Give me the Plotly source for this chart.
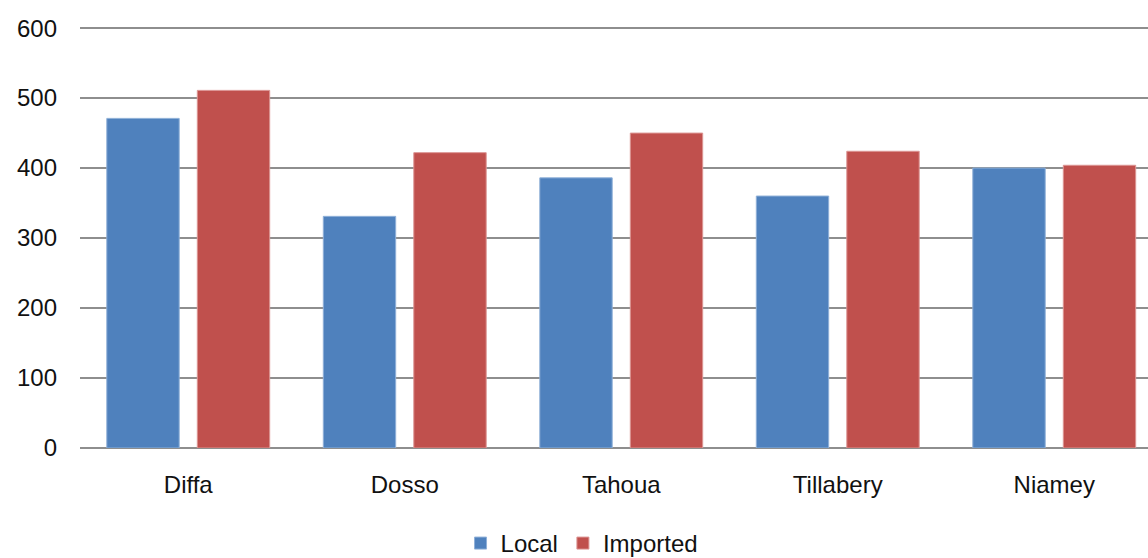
import plotly.graph_objects as go

regions = ["Diffa", "Dosso", "Tahoua", "Tillabery", "Niamey"]
local_vals = [471, 331, 386, 360, 400]
imported_vals = [511, 422, 450, 424, 404]
y_ticks = [0, 100, 200, 300, 400, 500, 600]

fig = go.Figure()
fig.add_trace(go.Bar(
    name="Local", x=regions, y=local_vals,
    marker=dict(color="#4F81BD", line=dict(color="#8fb0d8", width=1)),
))
fig.add_trace(go.Bar(
    name="Imported", x=regions, y=imported_vals,
    marker=dict(color="#C0504D", line=dict(color="#dc9593", width=1)),
))

fig.update_layout(
    width=1148, height=558,
    margin=dict(l=80, r=0, t=26, b=110, autoexpand=False),
    plot_bgcolor="white", paper_bgcolor="white",
    barmode="group", bargap=0.164, bargroupgap=0.2,
    font=dict(family="Liberation Sans", size=24, color="#111111"),
    showlegend=True,
    legend=dict(orientation="h", xref="container", x=0.507, xanchor="center",
                yref="container", y=0.026, yanchor="middle",
                font=dict(size=24), traceorder="normal"),
)
# a little headroom above 600 so its gridline is drawn inside the plot area
fig.update_yaxes(
    range=[0, 603], tickvals=y_ticks, showgrid=True, gridcolor="#8e8e8e", gridwidth=1.5,
    zeroline=True, zerolinecolor="#8e8e8e", zerolinewidth=1.5, showline=False,
    ticklabelstandoff=22, fixedrange=True,
)
# the category axis runs on past the right edge of the page
fig.update_xaxes(range=[-0.5, 4.433], showline=False, ticklabelstandoff=20, fixedrange=True)

fig.write_html("out.html")
